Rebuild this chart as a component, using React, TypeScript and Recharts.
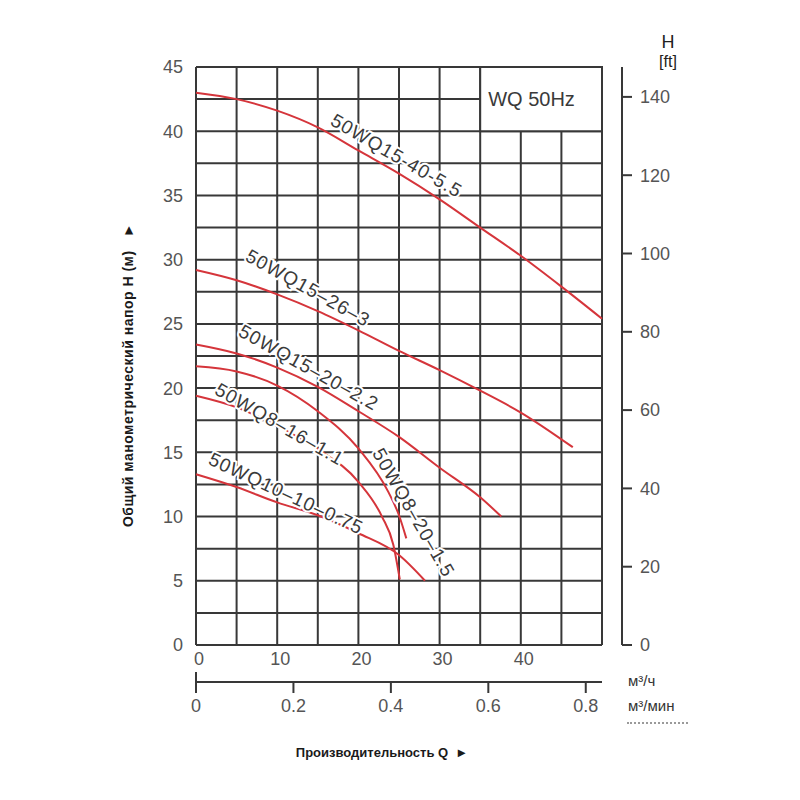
import {
  LineChart,
  Line,
  XAxis,
  YAxis,
  CartesianGrid,
  ReferenceDot,
  ReferenceArea,
} from "recharts";

const GRID = "#383838";
const RED = "#d5353b";
const TICK = "#555";
const FONT = "'Liberation Sans', Arial, sans-serif";

// подача Q, м³/ч и напор H, м — по каждой кривой
const q1 = [0, 5, 10, 15, 20, 25, 30, 35, 40, 45, 50];
const h1 = [43.0, 42.5, 41.6, 40.3, 38.5, 36.7, 34.7, 32.5, 30.3, 27.9, 25.4];

const q2 = [0, 5, 10, 15, 20, 25, 30, 35, 40, 46.4];
const h2 = [29.2, 28.4, 27.3, 26.0, 24.5, 22.9, 21.4, 19.8, 18.1, 15.4];

const q3 = [0, 5, 10, 15, 20, 25, 30, 35, 37.6];
const h3 = [23.4, 22.7, 21.6, 20.1, 18.2, 16.2, 13.8, 11.5, 10.0];

const q4 = [0, 5, 10, 15, 20, 23.7, 25, 25.9];
const h4 = [21.7, 21.3, 20.2, 18.2, 15.3, 11.9, 10.1, 8.3];

const q5 = [0, 5, 10, 15, 20, 22.9, 24.3, 25.1];
const h5 = [19.4, 18.5, 17.05, 15.25, 12.7, 10.0, 7.8, 5.1];

const q6 = [0, 5, 10, 15, 20, 25, 28.2];
const h6 = [13.3, 12.3, 11.1, 10.1, 8.7, 7.0, 5.0];

const curves = [
  { key: "c1", q: q1, h: h1 },
  { key: "c2", q: q2, h: h2 },
  { key: "c3", q: q3, h: h3 },
  { key: "c4", q: q4, h: h4 },
  { key: "c5", q: q5, h: h5 },
  { key: "c6", q: q6, h: h6 },
];

// подписи кривых
const labelText = [
  "50WQ15-40-5.5",
  "50WQ15–26–3",
  "50WQ15–20–2.2",
  "50WQ8–16–1.1",
  "50WQ10–10–0.75",
  "50WQ8–20–1.5",
];
const labelQ = [24.7, 13.8, 13.9, 10.3, 11.1, 26.8];
const labelH = [38.1, 27.8, 21.6, 17.2, 11.8, 10.3];
const labelAngle = [30, 29, 29, 30, 25, 60];

const ticksM = [0, 5, 10, 15, 20, 25, 30, 35, 40, 45];
const ticksFt = [0, 20, 40, 60, 80, 100, 120, 140];
const ticksQh = [0, 10, 20, 30, 40];
const ticksQmin = [0, 0.2, 0.4, 0.6, 0.8];
const gridH = [0, 2.5, 5, 7.5, 10, 12.5, 15, 17.5, 20, 22.5, 25, 27.5, 30, 32.5, 35, 37.5, 40, 42.5, 45];
const gridV = [0, 5, 10, 15, 20, 25, 30, 35, 40, 45, 50];

const M_TO_FT = 3.28084;

function FtTick(props: any) {
  const { x, y, payload } = props;
  return (
    <g>
      <line x1={x + 20} x2={x + 30} y1={y} y2={y} stroke={GRID} strokeWidth={2} />
      <text x={x + 38} y={y} dy="0.35em" fill={TICK} fontSize={18} fontFamily={FONT}>
        {payload.value}
      </text>
    </g>
  );
}

function MinTick(props: any) {
  const { x, y, payload } = props;
  return (
    <g>
      <line x1={x} x2={x} y1={payload.value === 0 ? y - 10 : y} y2={y + 11} stroke={GRID} strokeWidth={2} />
      <text x={x} y={y + 24} dy="0.35em" textAnchor="middle" fill={TICK} fontSize={18} fontFamily={FONT}>
        {payload.value}
      </text>
    </g>
  );
}

function curveLabel(i: number) {
  return (p: any) => (
    <text
      x={p.cx}
      y={p.cy}
      transform={`rotate(${labelAngle[i]} ${p.cx} ${p.cy})`}
      textAnchor="middle"
      dominantBaseline="central"
      fontSize={19}
      fontFamily={FONT}
      letterSpacing={1}
      fill="#3a3a3a"
      stroke="#fff"
      strokeWidth={4}
      paintOrder="stroke"
    >
      {labelText[i]}
    </text>
  );
}

export default function App() {
  return (
    <div style={{ position: "relative", width: 784, height: 784, fontFamily: FONT, background: "#fff" }}>
      <LineChart width={784} height={784} margin={{ top: 59, right: 130, bottom: 60, left: 128 }}>
        <CartesianGrid
          xAxisId="h"
          yAxisId="m"
          stroke={GRID}
          strokeWidth={2}
          horizontalValues={gridH}
          verticalValues={gridV}
        />
        <XAxis
          xAxisId="h"
          type="number"
          dataKey="q"
          domain={[0, 50]}
          ticks={ticksQh}
          axisLine={false}
          tickLine={false}
          tickSize={0}
          tickMargin={7}
          height={37}
          tick={{ fill: TICK, fontSize: 18, fontFamily: FONT, dx: 3 }}
        />
        <XAxis
          xAxisId="min"
          type="number"
          dataKey="m"
          domain={[0, 50 / 60]}
          ticks={ticksQmin}
          allowDataOverflow
          axisLine={{ stroke: GRID, strokeWidth: 2 }}
          tickLine={false}
          tickSize={0}
          tickMargin={0}
          height={50}
          tick={<MinTick />}
        />
        <YAxis
          yAxisId="m"
          type="number"
          domain={[0, 45]}
          ticks={ticksM}
          axisLine={false}
          tickLine={false}
          tickSize={0}
          tickMargin={13}
          width={60}
          tick={{ fill: TICK, fontSize: 18, fontFamily: FONT }}
        />
        <YAxis
          yAxisId="ft"
          orientation="right"
          type="number"
          domain={[0, 45 * M_TO_FT]}
          ticks={ticksFt}
          allowDataOverflow
          axisLine={{ stroke: GRID, strokeWidth: 2, transform: "translate(20,0)" }}
          tickLine={false}
          tickSize={0}
          tickMargin={0}
          width={60}
          tick={<FtTick />}
        />
        <ReferenceArea
          xAxisId="h"
          yAxisId="m"
          x1={35}
          x2={50}
          y1={40}
          y2={45}
          fill="#fff"
          fillOpacity={1}
          stroke={GRID}
          strokeWidth={2}
          label={{ value: "WQ 50Hz", position: "insideLeft", offset: 8, fill: "#3a3a3a", fontSize: 20, fontFamily: FONT }}
        />
        {/* пустая серия, чтобы шкала м³/мин получила свои деления */}
        <Line
          xAxisId="min"
          yAxisId="m"
          data={ticksQmin.map((m) => ({ m }))}
          dataKey="h"
          stroke="none"
          dot={false}
          legendType="none"
          isAnimationActive={false}
        />
        {curves.map((c) => (
          <Line
            key={c.key}
            xAxisId="h"
            yAxisId="m"
            data={c.q.map((q, i) => ({ q, h: c.h[i] }))}
            dataKey="h"
            type="monotone"
            stroke={RED}
            strokeWidth={2}
            dot={false}
            isAnimationActive={false}
          />
        ))}
        {labelText.map((t, i) => (
          <ReferenceDot
            key={t}
            xAxisId="h"
            yAxisId="m"
            x={labelQ[i]}
            y={labelH[i]}
            r={0}
            shape={curveLabel(i)}
          />
        ))}
      </LineChart>

      <div
        style={{
          position: "absolute",
          left: 120,
          top: 367,
          transform: "translate(-50%, -50%) rotate(-90deg)",
          whiteSpace: "nowrap",
          fontWeight: "bold",
          fontSize: 14,
          letterSpacing: 0.5,
          color: "#1a1a1a",
        }}
      >
        Общий манометрический напор H (м)&nbsp;&nbsp;&nbsp;►
      </div>
      <div
        style={{
          position: "absolute",
          left: 374,
          top: 744,
          transform: "translate(-50%, -50%)",
          whiteSpace: "nowrap",
          fontWeight: "bold",
          fontSize: 13,
          color: "#1a1a1a",
        }}
      >
        Производительность Q&nbsp;&nbsp;►
      </div>
      <div style={{ position: "absolute", left: 660, top: 34, transform: "translate(-50%, -50%)", fontSize: 18, color: "#222", lineHeight: 1 }}>
        H
      </div>
      <div style={{ position: "absolute", left: 660, top: 54, transform: "translate(-50%, -50%)", fontSize: 16, color: "#222", lineHeight: 1 }}>
        [ft]
      </div>
      <div style={{ position: "absolute", left: 620, top: 672, transform: "translateY(-50%)", fontSize: 15, color: "#333", lineHeight: 1 }}>
        м³/ч
      </div>
      <div style={{ position: "absolute", left: 620, top: 697, transform: "translateY(-50%)", fontSize: 15, color: "#333", lineHeight: 1 }}>
        м³/мин
      </div>
      <div style={{ position: "absolute", left: 619, top: 714, width: 61, borderTop: "2px dotted #9a9a9a" }} />
    </div>
  );
}
